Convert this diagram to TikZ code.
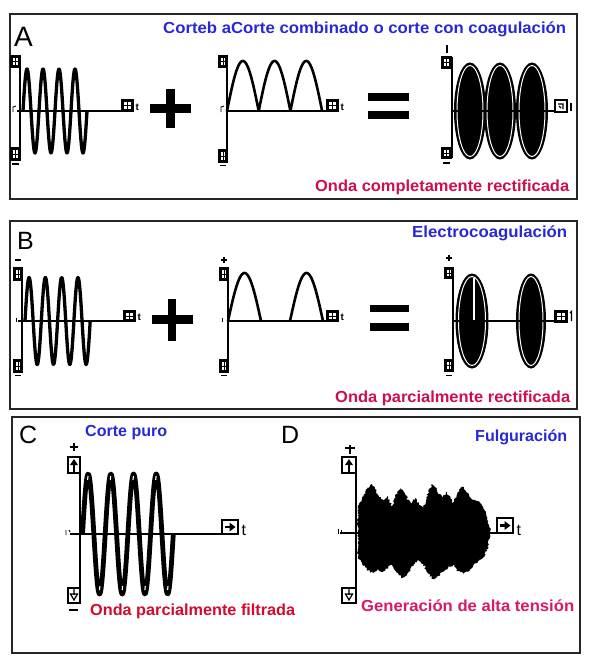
\documentclass[tikz,border=0pt]{standalone}
\usepackage{fontspec}
\setmainfont{Liberation Sans}
\usetikzlibrary{decorations.pathmorphing}
\definecolor{ttlblue}{RGB}{40,40,215}
\definecolor{crimA}{RGB}{205,15,75}
\definecolor{crimC}{RGB}{210,10,45}
\definecolor{crimD}{RGB}{215,25,105}
\newlength\fitlen
\newcommand\fitto[2]{\settowidth\fitlen{#2}\pgfmathsetmacro\myfitr{#1/\fitlen}\scalebox{\myfitr}[1]{#2}}
\newcommand\gridbox[4]{%
  \draw[boxln] (#1,#2) rectangle (#3,#4);
  \draw[line width=0.7pt] ({#1+1.6},{#2+1.6}) rectangle ({#3-1.6},{#4-1.6})
    ({(#1+#3)/2},{#2+1.6}) -- ({(#1+#3)/2},{#4-1.6})
    ({#1+1.6},{(#2+#4)/2}) -- ({#3-1.6},{(#2+#4)/2});}
\begin{document}
\begin{tikzpicture}[x=1pt,y=-1pt,
  panel/.style={draw=black!85, line width=2pt},
  boxln/.style={draw=black, line width=1.1pt},
  axis/.style={draw=black, line width=1.5pt},
  ttl/.style={inner sep=0pt, font=\fontsize{16}{19}\selectfont\bfseries, text=ttlblue},
  sub/.style={inner sep=0pt, font=\fontsize{16}{19}\selectfont\bfseries},
  letter/.style={inner sep=0pt, font=\fontsize{25}{28}\selectfont},
  tlab/.style={inner sep=0pt, font=\fontsize{10}{12}\selectfont\bfseries},
  tbig/.style={inner sep=0pt, font=\fontsize{16}{19}\selectfont},
  bar/.style={fill=black},
  wave/.style={draw=black, line width=3.3pt, line join=round},
  lens/.style={fill=black, draw=black, line width=1pt}]
\useasboundingbox (0,0) rectangle (592,667);
\fill[white] (0,0) rectangle (592,667);

% ---------------- panels
\draw[panel] (10,14) rectangle (577,199);
\draw[panel] (10,221) rectangle (577,409);
\draw[panel] (12,417) rectangle (580,653);

% ---------------- texts
\node[letter, anchor=base west, font=\fontsize{28}{30}\selectfont] (lA) at (14,46) {A};
\node[letter, anchor=base west] (lB) at (17,249) {B};
\node[letter, anchor=base west] (lC) at (19,443) {C};
\node[letter, anchor=base west] (lD) at (281,443) {D};
\node[ttl, anchor=base west] (tA) at (163,33) {\fitto{403}{Corteb aCorte combinado o corte con coagulación}};
\node[sub, text=crimA, anchor=base west] (sA) at (315,191) {\fitto{254}{Onda completamente rectificada}};
\node[ttl, anchor=base west] (tB) at (412,237) {\fitto{155}{Electrocoagulación}};
\node[sub, text=crimA, anchor=base west] (sB) at (335,402.5) {\fitto{235}{Onda parcialmente rectificada}};
\node[ttl, anchor=base west] (tC) at (85,436.7) {\fitto{82}{Corte puro}};
\node[sub, text=crimC, anchor=base west] (sC) at (90,615) {\fitto{205}{Onda parcialmente filtrada}};
\node[ttl, anchor=base west] (tD) at (475,441.7) {\fitto{92}{Fulguración}};
\node[sub, text=crimD, anchor=base west] (sD) at (361,611.7) {\fitto{213}{Generación de alta tensión}};

% ================= PANEL A
% wave 1
\draw[axis] (20,56) -- (20,160);
\draw[axis] (17,111) -- (122,111);
\gridbox{11}{56}{20}{67}
\gridbox{11}{148}{20}{160}
\draw[line width=1.3pt] (12,164) -- (19,164);
\draw[line width=0.9pt] (13,112) -- (13,107) -- (16,106);
\gridbox{122}{100}{133}{111}
\node[tlab, anchor=base west] (tA1) at (135.5,110) {t};
\draw[wave] plot[domain=23:87, samples=160] (\x, {111-42*sin((\x-23)/16*360)});
% plus
\fill[bar] (150,103.5) rectangle (191,112.5);
\fill[bar] (166,89) rectangle (174.5,128);
% wave 2
\draw[axis] (227,56) -- (227,162);
\draw[axis] (227,111) -- (327,111);
\gridbox{219}{56}{227}{67}
\gridbox{219}{150}{227}{162}
\draw[line width=1.3pt] (220,165.5) -- (226,165.5);
\draw[line width=0.9pt] (221,112) -- (221,107) -- (224,106);
\gridbox{327}{100}{338}{111}
\node[tlab, anchor=base west] (tA2) at (340.5,110) {t};
\draw[wave, line width=2.6pt] plot[domain=227:322, samples=200] (\x, {111-50*abs(sin((\x-227)/31.7*180))});
% equals
\fill[bar] (368,93) rectangle (409,101);
\fill[bar] (368,111) rectangle (409,119);
% wave 3
\draw[line width=1.3pt] (447,45) -- (447,53);
\draw[axis] (452,57) -- (452,158);
\gridbox{442}{57}{451}{68}
\gridbox{442}{148}{451}{158}
\draw[line width=1.3pt] (443,163) -- (450,163);
\foreach \cx in {470,500,532}{
  \draw[lens] (\cx,111) ellipse [x radius=15.5, y radius=48];
  \draw[white, line width=1pt] (\cx,111) ellipse [x radius=13, y radius=45.5];
}
\draw[axis] (452,111) -- (555,111);
\draw[boxln] (555,100) rectangle (567,112);
\draw[line width=1.2pt] (558,104) -- (563,104) -- (563,109) (559,106) -- (561,108);
\draw[line width=1.3pt] (571,103) -- (571,111);

% ================= PANEL B
% wave 1
\draw[line width=1.3pt] (15,260) -- (21,260);
\draw[axis] (22,268) -- (22,372);
\draw[axis] (18,321) -- (124,321);
\gridbox{14}{268}{22}{280}
\gridbox{14}{360}{22}{372}
\draw[line width=1.3pt] (15,375.5) -- (21,375.5);
\draw[line width=0.9pt] (16,322) -- (16,318);
\gridbox{124}{311}{135}{321}
\node[tlab, anchor=base west] (tB1) at (137.5,320.5) {t};
\draw[wave] plot[domain=25:90.2, samples=160] (\x, {321-43.5*sin((\x-25)/16.3*360)});
% plus
\fill[bar] (152,315) rectangle (193,323.5);
\fill[bar] (167.5,299) rectangle (175.5,341);
% wave 2
\draw[line width=1.3pt] (221,260) -- (227,260) (224,257) -- (224,263);
\draw[axis] (228,268) -- (228,372);
\draw[axis] (228,321) -- (327,321);
\gridbox{220}{268}{228}{280}
\gridbox{220}{360}{228}{372}
\draw[line width=1.3pt] (221,375.5) -- (227,375.5);
\draw[line width=0.9pt] (222,322) -- (222,318);
\gridbox{327}{311}{338}{321}
\node[tlab, anchor=base west] (tB2) at (340.5,320.5) {t};
\draw[wave, line width=2.6pt] plot[domain=228:261, samples=80] (\x, {321-48*sin((\x-228)/33*180)});
\draw[wave, line width=2.6pt] plot[domain=290:323, samples=80] (\x, {321-48*sin((\x-290)/33*180)});
% equals
\fill[bar] (370,305) rectangle (409,312);
\fill[bar] (370,323) rectangle (409,331);
% wave 3
\draw[line width=1.3pt] (446,258) -- (452,258) (449,255) -- (449,261);
\draw[axis] (453,268) -- (453,371);
\gridbox{445}{268}{453}{278}
\gridbox{445}{360}{453}{371}
\draw[line width=1.3pt] (446,375.5) -- (452,375.5);
\draw[lens] (472,321) ellipse [x radius=16, y radius=47];
\draw[white, line width=1pt] (472,321) ellipse [x radius=13.5, y radius=44.5];
\draw[white, line width=1.2pt] (474,278) -- (474,320);
\draw[lens] (531,321) ellipse [x radius=14.5, y radius=47];
\draw[white, line width=1pt] (531,321) ellipse [x radius=12, y radius=44.5];
\draw[axis] (453,321) -- (555,321);
\gridbox{555}{311}{567}{322}
\draw[line width=1.2pt] (570,313) -- (571.5,311.5) -- (571.5,321);

% ================= PANEL C
\draw[line width=1.6pt] (70,447) -- (78,447) (74,443) -- (74,451);
\draw[axis] (80,457) -- (80,603);
\draw[axis] (70,534) -- (222,534);
\draw[boxln] (68,457) rectangle (80,473);
\fill (74,459) -- (78,465) -- (70,465) -- cycle;
\draw[line width=2pt] (74,464) -- (74,471.5);
\draw[boxln] (68,588) rectangle (80,603);
\draw[line width=1.2pt] (70.5,594) -- (77.5,594) -- (74,600) -- cycle (74,589) -- (74,595);
\draw[line width=1.4pt] (69,610) -- (78,610);
\draw[line width=0.9pt] (66,535) -- (66,530) (69,530) -- (70,532);
\draw[boxln] (222,520) rectangle (238,534);
\fill (235.5,527) -- (229.5,522.5) -- (229.5,531.5) -- cycle;
\draw[line width=2.4pt] (224.5,527) -- (231,527);
\node[tbig, anchor=base west] (tC1) at (241.5,535.5) {t};
\draw[wave, line width=4.8pt] plot[domain=82.5:173.3, samples=220] (\x, {534-60*sin((\x-82.5)/22.7*360)});
\foreach \px in {88.2,110.9,133.6,156.3}{
  \draw[white, line width=1.1pt] (\px-0.6,480) -- (\px-0.2,476);
}
\foreach \px in {99.5,122.2,144.9,167.6}{
  \draw[white, line width=1.1pt] (\px+0.4,586) -- (\px,590);
}

% ================= PANEL D
\draw[line width=1.6pt] (345,448) -- (355,448) (350,445) -- (350,454);
\draw[axis] (356,457) -- (356,603);
\draw[axis] (340,533) -- (497,533);
\draw[boxln] (342,457) rectangle (356,473);
\fill (349,459) -- (353,465) -- (345,465) -- cycle;
\draw[line width=2pt] (349,464) -- (349,471.5);
\draw[boxln] (342,588) rectangle (356,603);
\draw[line width=1.2pt] (345.5,594) -- (352.5,594) -- (349,600) -- cycle (349,589) -- (349,595);
\draw[line width=0.9pt] (338,534) -- (338,529) (341,534) -- (341,530);
\pgfmathsetseed{11}
\fill[black, decorate, decoration={random steps, segment length=1.2pt, amplitude=1.1pt}]
  (358,533) -- (358,507)
  \foreach \px/\py in {362/34,367/44,370/47,372/49,375/44,379/37,383/33,387/37,392/27,396/38,400/45,404/41,408/33,412/30,415/35,419/28,423/25,427/36,430/45,432/49,435/46,439/39,442/36,447/41,450/35,453/30,457/39,460/44,463/46,466/42,470/36,473/33,477/32,480/31,484/24,487/16,489/8}{ -- (\px,533-\py) }
  -- (491,533)
  \foreach \px/\py in {489/6,487/18,483/25,478/28,473/33,468/39,463/41,458/38,453/32,448/35,442/39,437/44,433/46,428/40,423/31,418/27,413/33,408/40,402/45,396/38,392/31,388/35,383/39,378/36,373/40,367/37,362/30,358/24}{ -- (\px,533+\py) }
  -- cycle;
\draw[boxln] (497,518) rectangle (513,533);
\fill (510.5,525.5) -- (504.5,521) -- (504.5,530) -- cycle;
\draw[line width=2.4pt] (499.5,525.5) -- (506,525.5);
\node[tbig, anchor=base west] (tD1) at (516.5,535) {t};
\end{tikzpicture}
\end{document}
